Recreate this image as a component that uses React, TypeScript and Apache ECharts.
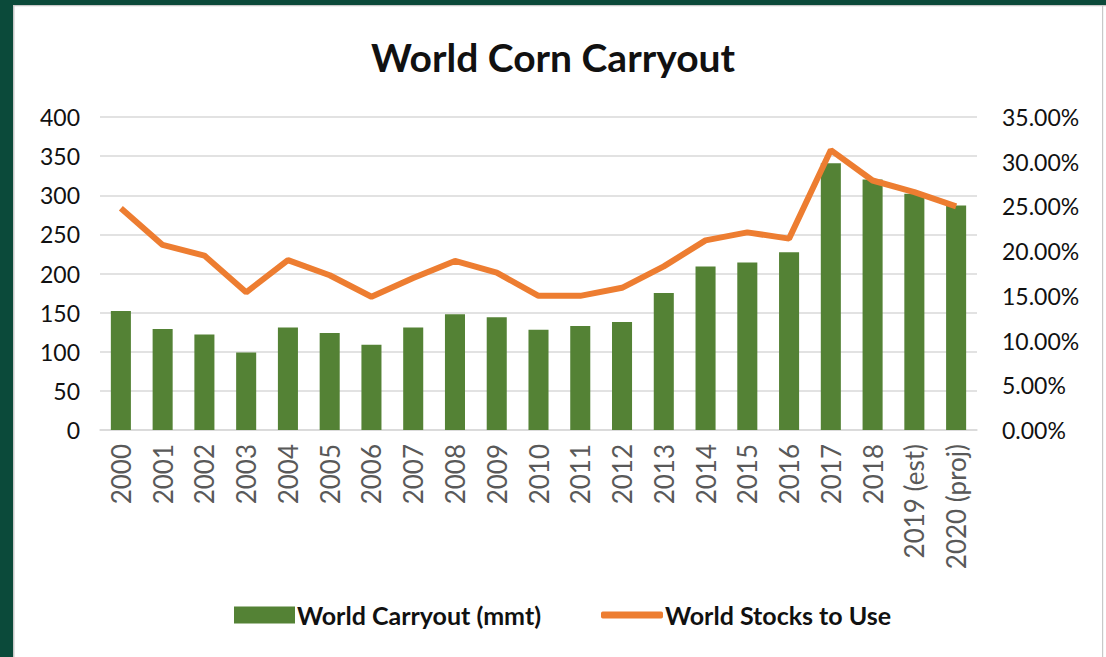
import React, { useEffect, useRef } from "react";
import * as echarts from "echarts";

const categories = ["2000","2001","2002","2003","2004","2005","2006","2007","2008","2009","2010","2011","2012","2013","2014","2015","2016","2017","2018","2019 (est)","2020 (proj)"];
const carryout = [152,129,122,99,131,124,109,131,148,144,128,133,138,175,209,214,227,341,320,302,287];
const stocksToUse = [24.8,20.7,19.5,15.4,19.0,17.3,14.9,17.0,18.9,17.6,15.0,15.0,15.9,18.3,21.2,22.1,21.4,31.3,27.9,26.6,25.0];
const leftTicks = [0, 400, 50];
const rightTicks = [0, 35, 5];

const FONT = "Lato, 'Open Sans', sans-serif";

export default function App() {
  const ref = useRef<HTMLDivElement>(null);
  useEffect(() => {
    if (!ref.current) return;
    const chart = echarts.init(ref.current, null, { renderer: "svg" });
    const legendText = { fontFamily: FONT, fontSize: 25, fontWeight: "bold", color: "#111111", lineHeight: 26, padding: [0, 0, 0, -3] };
    chart.setOption({
      animation: false,
      backgroundColor: "#ffffff",
      textStyle: { fontFamily: FONT },
      title: {
        text: "World Corn Carryout",
        left: "center",
        top: 32,
        textStyle: { fontFamily: FONT, fontSize: 39, fontWeight: "bold", color: "#111111" },
      },
      graphic: [
        { type: "rect", left: 0, top: 0, shape: { width: 1106, height: 5 }, style: { fill: "#0b4a3a" }, z: 100 },
        { type: "rect", left: 0, top: 0, shape: { width: 13, height: 657 }, style: { fill: "#0b4a3a" }, z: 100 },
        { type: "rect", left: 13, top: 5, shape: { width: 1.5, height: 652 }, style: { fill: "#c8c8c8" }, z: 100 },
        { type: "rect", left: 13, top: 5, shape: { width: 1093, height: 1.2 }, style: { fill: "#c8c8c8" }, z: 100 },
        { type: "rect", left: 1102, top: 5, shape: { width: 1.2, height: 652 }, style: { fill: "#c8c8c8" }, z: 100 },
      ],
      legend: [
        {
          left: 234,
          top: 602,
          padding: 0,
          itemWidth: 61,
          itemHeight: 17,
          textStyle: legendText,
          data: [{ name: "World Carryout (mmt)", icon: "rect" }],
        },
        {
          left: 601,
          top: 602,
          padding: 0,
          itemWidth: 62,
          itemHeight: 7,
          textStyle: legendText,
          data: [{ name: "World Stocks to Use", icon: "roundRect" }],
        },
      ],
      grid: { left: 100, right: 129, top: 117, bottom: 227, containLabel: false },
      xAxis: {
        type: "category",
        data: categories,
        axisLine: { lineStyle: { color: "#d9d9d9", width: 1.5 } },
        axisTick: { show: false },
        axisLabel: { rotate: 90, color: "#595959", fontSize: 26, fontFamily: FONT, margin: 14 },
      },
      yAxis: [
        {
          type: "value",
          min: leftTicks[0],
          max: leftTicks[1],
          interval: leftTicks[2],
          axisLine: { show: false },
          axisTick: { show: false },
          splitLine: { lineStyle: { color: "#d9d9d9", width: 1.5 } },
          axisLabel: { color: "#111111", fontSize: 23, fontFamily: FONT, margin: 20 },
        },
        {
          type: "value",
          min: rightTicks[0],
          max: rightTicks[1],
          interval: rightTicks[2],
          axisLine: { show: false },
          axisTick: { show: false },
          splitLine: { show: false },
          axisLabel: { color: "#111111", fontSize: 23, fontFamily: FONT, margin: 25, formatter: (v: number) => v.toFixed(2) + "%" },
        },
      ],
      series: [
        {
          name: "World Carryout (mmt)",
          type: "bar",
          data: carryout,
          barWidth: "48%",
          itemStyle: { color: "#548235" },
        },
        {
          name: "World Stocks to Use",
          type: "line",
          yAxisIndex: 1,
          data: stocksToUse,
          symbol: "none",
          lineStyle: { color: "#ED7D31", width: 6 },
          itemStyle: { color: "#ED7D31" },
        },
      ],
    });
    return () => chart.dispose();
  }, []);
  return <div ref={ref} style={{ position: "fixed", left: 0, top: 0, width: 1106, height: 657 }} />;
}
